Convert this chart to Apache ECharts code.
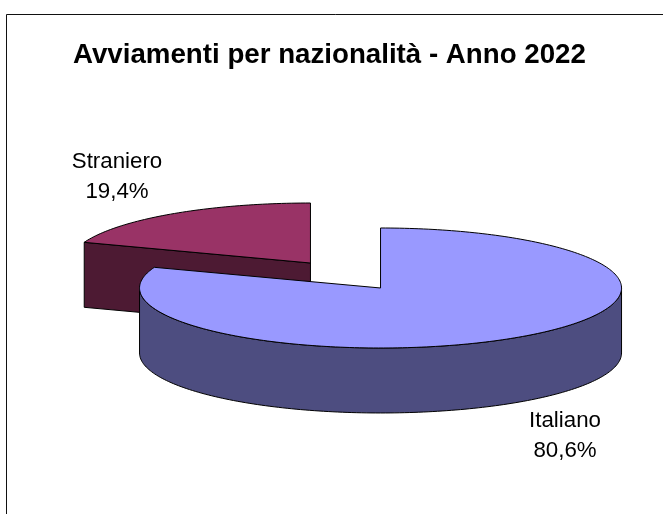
<!DOCTYPE html>
<html>
<head>
<meta charset="utf-8">
<style>html,body{margin:0;padding:0;background:#fff;overflow:hidden}#chart{width:663px;height:514px}</style>
<script src="https://cdn.jsdelivr.net/npm/echarts@6/dist/echarts.min.js"></script>
</head>
<body>
<div id="chart"></div>
<script>
// Slices, clockwise from twelve o'clock
const categories = ['Italiano', 'Straniero'];
const shares = [80.6, 19.4];
const topColors = ['#9999FF', '#993366'];
const wallColors = ['#4D4D80', '#4D1A33'];
const titleText = 'Avviamenti per nazionalità - Anno 2022';

// Tilted disc geometry, in axis units (one unit is the pie radius)
const EXPLODE = 0.254;
const DEPTH = 1.083;
const LABEL_FONT = 'normal 22.3px "Liberation Sans", Arial, sans-serif';
const labelCenters = [[565, 436], [117, 177]];

const total = shares.reduce((a, b) => a + b, 0);
const TAU = Math.PI * 2;

// Angle helpers: 0 is the top of the disc, growing clockwise
function unit(angle) { return [Math.sin(angle), Math.cos(angle)]; }

function arcPoints(from, to) {
  const pts = [];
  const steps = Math.max(2, Math.ceil((to - from) / 0.02));
  for (let i = 0; i <= steps; i++) {
    pts.push(unit(from + (to - from) * i / steps));
  }
  return pts;
}

function renderSlice(params, api) {
  const share = api.value(0);
  const index = api.value(1);
  const before = shares.slice(0, index).reduce((a, b) => a + b, 0);
  const start = before / total * TAU;
  const end = (before + share) / total * TAU;
  const dir = unit((start + end) / 2);
  const cx = dir[0] * EXPLODE;
  const cy = dir[1] * EXPLODE;
  const toPixel = (p, drop) => api.coord([cx + p[0], cy + p[1] - (drop ? DEPTH : 0)]);
  const shape = (points, fill) => ({
    type: 'polygon',
    shape: { points },
    style: { fill, stroke: '#000', lineWidth: 1, lineJoin: 'round' }
  });
  const children = [];
  const wall = wallColors[index];

  // Cut face along the leading edge: it faces the viewer when that edge is on the left half
  if (Math.sin(start) < -1e-6) {
    const rimPoint = unit(start);
    children.push(shape([
      toPixel([0, 0]), toPixel(rimPoint), toPixel(rimPoint, true), toPixel([0, 0], true)
    ], wall));
  }

  // Outer wall: only the front half of the rim shows
  const wallFrom = Math.max(start, TAU / 4);
  const wallTo = Math.min(end, TAU * 3 / 4);
  if (wallTo > wallFrom) {
    const rim = arcPoints(wallFrom, wallTo);
    const outline = rim.map(p => toPixel(p))
      .concat(rim.slice().reverse().map(p => toPixel(p, true)));
    children.push(shape(outline, wall));
  }

  // Top face
  const top = [toPixel([0, 0])].concat(arcPoints(start, end).map(p => toPixel(p)));
  children.push(shape(top, topColors[index]));

  // Category and share label
  children.push({
    type: 'text',
    x: labelCenters[index][0],
    y: labelCenters[index][1],
    style: {
      text: categories[index] + '\n' + share.toFixed(1).replace('.', ',') + '%',
      font: LABEL_FONT,
      lineHeight: 30,
      fill: '#000',
      align: 'center',
      verticalAlign: 'middle'
    }
  });
  return { type: 'group', children };
}

// The far slice goes first so the near one overlaps it
const sliceRows = shares.map((v, i) => [v, i]).reverse();

const chart = echarts.init(document.getElementById('chart'), null, { renderer: 'canvas' });
chart.setOption({
  animation: false,
  backgroundColor: '#fff',
  title: {
    text: titleText,
    left: 73,
    top: 41,
    padding: 0,
    textStyle: {
      fontFamily: '"Liberation Sans", Arial, sans-serif',
      fontWeight: 'bold',
      fontSize: 27.7,
      color: '#000'
    }
  },
  graphic: [{
    type: 'rect',
    z: -1,
    shape: { x: 6.5, y: 14.5, width: 720, height: 560 },
    style: { fill: '#fff', stroke: '#111', lineWidth: 1 }
  }],
  grid: { left: 104.5, width: 482, top: 215.5, height: 120 },
  xAxis: { type: 'value', min: -1, max: 1, show: false },
  yAxis: { type: 'value', min: -1, max: 1, show: false },
  series: [{
    type: 'custom',
    coordinateSystem: 'cartesian2d',
    renderItem: renderSlice,
    clip: false,
    silent: true,
    data: sliceRows,
    encode: { x: 0 },
    z: 2
  }]
});
</script>
</body>
</html>
